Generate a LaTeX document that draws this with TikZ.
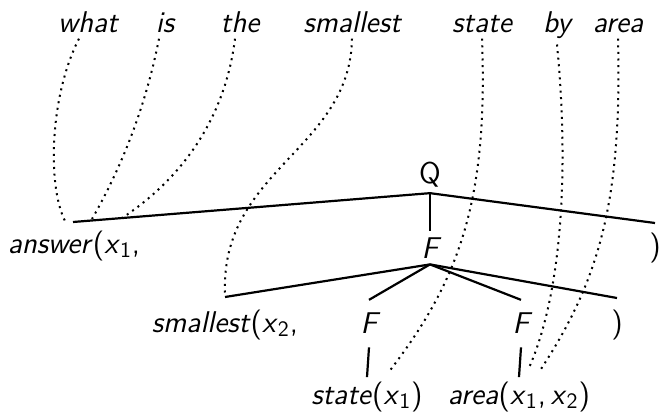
\documentclass[tikz,border=0pt]{standalone}
\usepackage{amsmath}
\usepackage{tikz}

\newcommand{\xsub}[1]{\textit{x}$_{\mathsf{#1}}$}

\begin{document}
\begin{tikzpicture}[
    x=0.5pt, y=-0.5pt,
    word/.style={font=\fontsize{15}{18}\selectfont\sffamily\itshape, anchor=base, inner sep=3pt},
    tag/.style={font=\fontsize{15}{18}\selectfont\sffamily, anchor=base, inner sep=3pt},
    link/.style={dash pattern=on 1pt off 2.3pt, line width=1pt},
    branch/.style={line width=1.1pt}
]
\useasboundingbox (0,0) rectangle (659,413);

% ================================================================
% Satz (oben)
% ================================================================
\foreach \w/\x in {what/88, is/165, the/240, smallest/352, state/482, by/557, area/618}
    \node[word] (w-\w) at (\x,32) {\w};

% ================================================================
% Baum
% ================================================================
\node[tag]  (Q)    at (430,183) {Q};
\node[word] (F)    at (430,258) {F};
\node[tag]  (ans)  at (74,253)  {\textit{answer}(\xsub{1},};
\node[tag]  (ansc) at (655,255) {)};
\node[tag]  (sm)   at (225,332) {\textit{smallest}(\xsub{2},};
\node[tag]  (smc)  at (617,332) {)};
\node[word] (Fl)   at (369,333) {F};
\node[word] (Fr)   at (521,333) {F};
\node[tag]  (st)   at (367,404) {\textit{state}(\xsub{1})};
\node[tag]  (ar)   at (519,404) {\textit{area}(\xsub{1},\,\xsub{2})};

% Endpunkte der Klammern
\coordinate (ans-l) at (73,222);
\coordinate (ans-r) at (655,223);
\coordinate (sm-l)  at (225,297);
\coordinate (sm-r)  at (617,298);

\draw[branch] (ans-l) -- (Q.south) -- (ans-r);
\draw[branch] (Q) -- (F);
\draw[branch] (sm-l) -- (F.south) -- (sm-r);
\draw[branch] (F.south) -- ([yshift=3pt]Fl.north);
\draw[branch] (F.south) -- ([yshift=3pt]Fr.north);
\draw[branch] ([yshift=-4pt]Fl.south) -- ([yshift=-1pt]st.north);
\draw[branch] ([yshift=-4pt]Fr.south) -- ([yshift=-1pt]ar.north);

% ================================================================
% Zuordnung Wort -> Praedikat (gepunktet)
% ================================================================
\coordinate (e-what)     at (65,221);
\coordinate (e-is)       at (92,219);
\coordinate (e-the)      at (122,218);
\coordinate (e-smallest) at (225,294);
\coordinate (e-state)    at (388,373);
\coordinate (e-by)       at (528,370);
\coordinate (e-area)     at (539,372);

\draw[link] ([xshift=-4.5pt]w-what.south) .. controls (50,95) and (47,185) .. (e-what);
\draw[link] ([xshift=-3pt]w-is.south) .. controls (145,110) and (120,170) .. (e-is);
\draw[link] ([xshift=-2.5pt]w-the.south) .. controls (225,120) and (180,180) .. (e-the);
\draw[link] (w-smallest.south) .. controls (350,150) and (220,170) .. (e-smallest);
\draw[link] (w-state.south) .. controls (488,200) and (460,280) .. (e-state);
\draw[link] (w-by.south) .. controls (570,180) and (560,300) .. (e-by);
\draw[link] (w-area.south) .. controls (622,200) and (600,280) .. (e-area);

\end{tikzpicture}
\end{document}
